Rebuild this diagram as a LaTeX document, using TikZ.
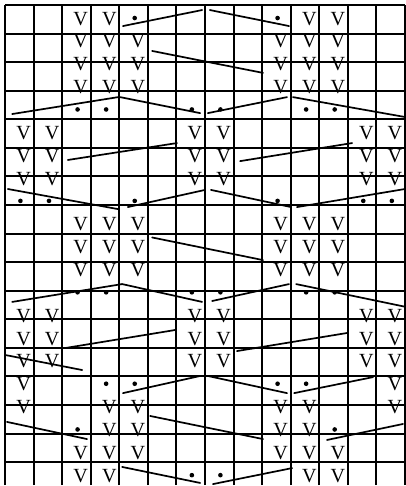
\documentclass[tikz,border=0pt]{standalone}
\usepackage{fontspec}
\setmainfont{Liberation Serif}
\usepackage{tikz}

\begin{document}
\begin{tikzpicture}[
		x=1cm, y=0.8cm,
		gridline/.style={line width=2pt, black},
		slant/.style={line width=1.7pt, black, line cap=round},
		vmark/.style={anchor=base, inner sep=0pt, font=\fontsize{20}{20}\selectfont},
		dotmark/.style={circle, fill=black, inner sep=0pt, minimum size=4.6pt}
	]
	\useasboundingbox (-0.175,0.219) rectangle (14.035,-21.044);

	% --- Grid (14 columns x 21 rows) ---
	\draw[gridline] (0,0) grid (14,-21);

	% --- V marks (row/columns) ---
	\foreach \r/\cols in {1/{3,4,11,12}, 2/{3,4,5,10,11,12}, 3/{3,4,5,10,11,12}, 4/{3,4,5,10,11,12},
			6/{1,2,7,8,13,14}, 7/{1,2,7,8,13,14}, 8/{1,2,7,8,13,14},
			10/{3,4,5,10,11,12}, 11/{3,4,5,10,11,12}, 12/{3,4,5,10,11,12},
			14/{1,2,7,8,13,14}, 15/{1,2,7,8,13,14}, 16/{1,2,7,8,13,14},
			17/{1,14}, 18/{1,4,5,10,11,14}, 19/{4,5,10,11}, 20/{3,4,5,10,11,12}, 21/{3,4,11,12}}
		\foreach \c in \cols
			\node[vmark] (v-\r-\c) at (\c-0.35,-\r+0.12) {V};

	% --- Dots ---
	\foreach \r/\cols in {1/{5,10}, 5/{3,4,7,8,11,12}, 9/{1,2,5,10,13,14}, 13/{3,4,7,8,11,12},
			17/{4,5,10,11}, 19/{3,12}, 21/{7,8}}
		\foreach \c in \cols
			\node[dotmark] (d-\r-\c) at (\c-0.46,-\r+0.43) {};

	% --- Slanted strokes ---
	% row 1
	\draw[slant] (4.13,-0.92) -- (6.9,-0.22);
	\draw[slant] (7.17,-0.22) -- (9.94,-0.92);
	% row 3
	\draw[slant] (5.15,-2.01) -- (9.03,-2.97);
	% row 5
	\draw[slant] (0.25,-4.77) -- (3.96,-4.03);
	\draw[slant] (4.03,-4.03) -- (6.83,-4.73);
	\draw[slant] (7.1,-4.73) -- (9.87,-4.03);
	\draw[slant] (10.08,-4.03) -- (14,-4.9);
	% row 7
	\draw[slant] (2.2,-6.78) -- (6.02,-6.04);
	\draw[slant] (8.23,-6.83) -- (12.15,-6.04);
	% row 9
	\draw[slant] (0.1,-8.05) -- (3.96,-8.93);
	\draw[slant] (4.3,-8.84) -- (7,-8.09);
	\draw[slant] (7.21,-8.09) -- (10.01,-8.84);
	\draw[slant] (10.22,-8.84) -- (14,-8.05);
	% row 11
	\draw[slant] (5.15,-10.17) -- (9.03,-11.16);
	% row 13
	\draw[slant] (0.25,-12.99) -- (4.1,-12.21);
	\draw[slant] (4.1,-12.21) -- (6.9,-12.99);
	\draw[slant] (7.25,-12.95) -- (9.94,-12.21);
	\draw[slant] (10.19,-12.21) -- (14,-13.2);
	% row 15
	\draw[slant] (2.1,-15.01) -- (5.95,-14.22);
	\draw[slant] (8.12,-15.14) -- (11.97,-14.35);
	% row 16
	\draw[slant] (0,-15.31) -- (2.7,-15.97);
	% row 17
	\draw[slant] (4.13,-16.98) -- (6.83,-16.23);
	\draw[slant] (7.1,-16.23) -- (9.87,-16.98);
	\draw[slant] (10.12,-16.98) -- (12.88,-16.28);
	% row 19
	\draw[slant] (0.07,-18.24) -- (2.87,-18.99);
	\draw[slant] (5.08,-17.98) -- (9.03,-18.99);
	\draw[slant] (11.27,-19.03) -- (13.93,-18.33);
	% row 21
	\draw[slant] (4.1,-20.21) -- (6.83,-20.91);
	\draw[slant] (7.28,-20.96) -- (10.05,-20.26);

\end{tikzpicture}
\end{document}
